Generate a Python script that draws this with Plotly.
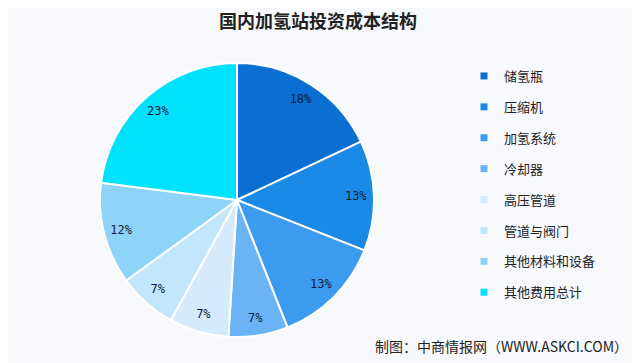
import plotly.graph_objects as go

categories = ["储氢瓶", "压缩机", "加氢系统", "冷却器", "高压管道", "管道与阀门", "其他材料和设备", "其他费用总计"]
values = [18, 13, 13, 7, 7, 7, 12, 23]
colors = ["#0a6fd1", "#1a8ae6", "#3b9bee", "#6ab4f5", "#d5eafc", "#c2e6fb", "#8dd4f8", "#00e1fb"]

title_text = "国内加氢站投资成本结构"
source_text = "制图：中商情报网（WWW.ASKCI.COM）"

# page body has an 8px margin; figure fills the rest of the 640x363 window
OFF = 8
W, H = 640 - OFF, 363 - OFF


def px(x):
    return (x - OFF) / W


def py(y):
    return 1 - (y - OFF) / H


cx, cy, r = 237, 200, 137
dom = dict(x=[px(cx - r), px(cx + r)], y=[py(cy + r), py(cy - r)])

fig = go.Figure()
fig.add_trace(go.Pie(
    labels=categories, values=values, sort=False, direction="clockwise", rotation=0,
    marker=dict(colors=colors, line=dict(color="white", width=2)),
    textinfo="none", showlegend=False, hoverinfo="label+value", domain=dom,
))
# transparent ring carrying the percentage labels near the rim
fig.add_trace(go.Pie(
    labels=categories, values=values, sort=False, direction="clockwise", rotation=0,
    hole=0.74,
    marker=dict(colors=["rgba(0,0,0,0)"] * len(values), line=dict(width=0)),
    texttemplate="%{value}%", textposition="inside", insidetextorientation="horizontal",
    textfont=dict(family="DejaVu Sans Mono", size=12, color="#0d1b3e"),
    showlegend=False, hoverinfo="skip", domain=dom,
))

for i, (cat, col) in enumerate(zip(categories, colors)):
    fig.add_trace(go.Scatter(
        x=[None], y=[None], mode="markers", name=cat,
        marker=dict(symbol="square", size=7, color=col),
        legendgroup=f"g{i}", showlegend=True,
    ))

fig.update_layout(
    width=W, height=H,
    paper_bgcolor="#f8f9fd",
    plot_bgcolor="rgba(0,0,0,0)",
    margin=dict(l=0, r=0, t=0, b=0),
    xaxis=dict(visible=False),
    yaxis=dict(visible=False),
    title=dict(text=f"<b>{title_text}</b>", x=px(318), xanchor="center", y=py(22), yanchor="middle",
               font=dict(family="Noto Sans CJK SC", size=18, color="#222222")),
    legend=dict(x=px(464), xanchor="left", y=py(61), yanchor="top",
                font=dict(family="Noto Sans CJK SC", size=13, color="#222222"),
                bgcolor="rgba(0,0,0,0)", tracegroupgap=11, itemsizing="trace"),
    annotations=[dict(text=source_text, x=px(630), y=py(346), xref="paper", yref="paper",
                      xanchor="right", yanchor="middle", showarrow=False,
                      font=dict(family="Noto Sans CJK SC", size=14, color="#222222"))],
)

fig.write_html("out.html")
